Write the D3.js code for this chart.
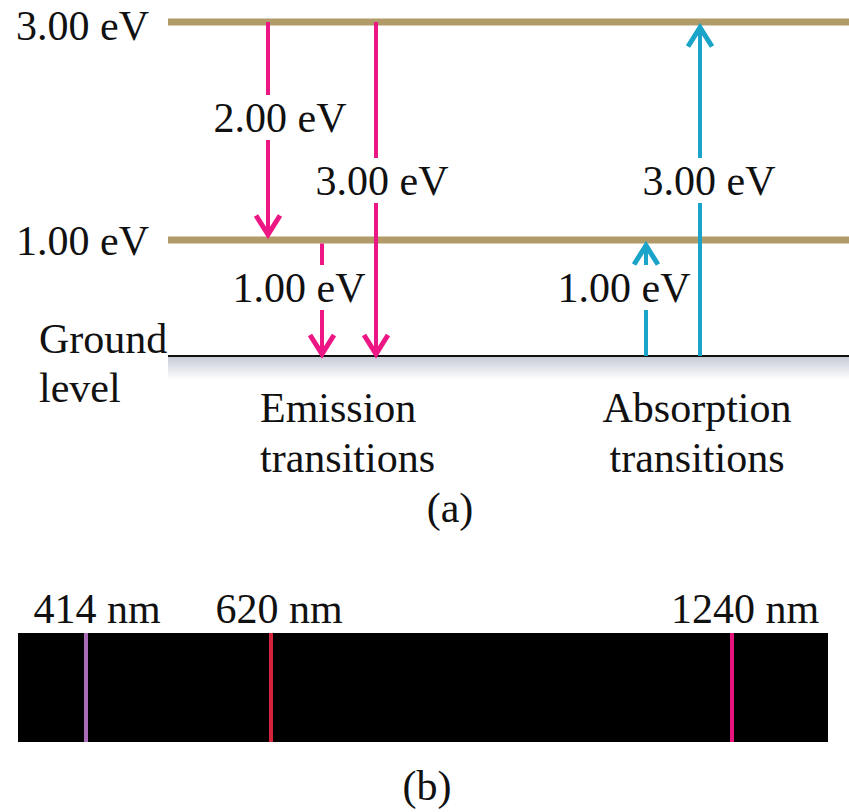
<!DOCTYPE html>
<html>
<head>
<meta charset="utf-8">
<script src="https://cdn.jsdelivr.net/npm/d3@7"></script>
<style>
  body { margin: 0; background: #fff; }
  text { font-family: "Liberation Serif", "Times New Roman", serif; font-size: 42px; fill: #111; }
</style>
</head>
<body>
<svg id="chart"></svg>
<script>
// energy levels (eV)
var levels = [3, 1, 0];
var levelLabels = ["3.00 eV", "1.00 eV", ""];

// transitions: from / to energy, slot along the row
var transFrom = [3, 1, 3, 0, 0];
var transTo = [1, 0, 0, 1, 3];
var transLabels = ["2.00 eV", "1.00 eV", "3.00 eV", "1.00 eV", "3.00 eV"];
var transSlot = [0, 1, 2, 7, 8];
var transKind = ["emission", "emission", "emission", "absorption", "absorption"];

// label placement (pixels)
var labelDx = [12, -23, 6, -22, 9];
var labelBase = [132, 302, 195, 302, 195];

// spectrum lines (nm)
var wavelengths = [414, 620, 1240];
var waveLabels = ["414 nm", "620 nm", "1240 nm"];
var waveColors = ["#a96bb8", "#d4253c", "#e8147e"];
var waveDx = [11, 8, 13];

var colors = { emission: "#ec1784", absorption: "#1ba4c9" };

var width = 849, height = 812;

var svg = d3.select("#chart")
    .attr("width", width)
    .attr("height", height);

var y = d3.scaleLinear().domain([0, 1, 3]).range([356, 240, 22]);
var x = d3.scaleLinear().domain([0, 1]).range([268, 322]);
var lineLeft = 168;

// shading under ground level
var grad = svg.append("defs").append("linearGradient")
    .attr("id", "shade").attr("x1", 0).attr("y1", 0).attr("x2", 0).attr("y2", 1);
grad.append("stop").attr("offset", "0%").attr("stop-color", "#c5cad5");
grad.append("stop").attr("offset", "100%").attr("stop-color", "#fff");

svg.append("rect")
    .attr("x", lineLeft).attr("y", y(0))
    .attr("width", width - lineLeft).attr("height", 24)
    .attr("fill", "url(#shade)");

// level lines
svg.selectAll(".level")
    .data(levels)
  .enter().append("line")
    .attr("class", "level")
    .attr("x1", lineLeft).attr("x2", width)
    .attr("y1", function(d) { return y(d); })
    .attr("y2", function(d) { return y(d); })
    .attr("stroke", function(d) { return d == 0 ? "#111" : "#b19b68"; })
    .attr("stroke-width", function(d) { return d == 0 ? 2 : 7; });

svg.selectAll(".levelLabel")
    .data(levels)
  .enter().append("text")
    .attr("text-anchor", "end")
    .attr("x", 149)
    .attr("y", function(d) { return y(d) + (d == 3 ? 18 : 15); })
    .text(function(d, i) { return levelLabels[i]; });

svg.append("text").attr("x", 39).attr("y", 353).text("Ground");
svg.append("text").attr("x", 39).attr("y", 402).text("level");

// arrows
var trans = transFrom.map(function(f, i) {
  return { from: f, to: transTo[i], label: transLabels[i], slot: transSlot[i], kind: transKind[i], i: i };
});

function tipY(d) {
  var up = d.to > d.from;
  if (d.to == 0) return y(0);
  return up ? y(d.to) + 3.5 : y(d.to) - 3.5;
}
function startY(d) {
  if (d.from == 0) return y(0);
  return d.kind == "emission" && d.from == 1 ? y(1) + 3.5 : y(d.from);
}

var arrows = svg.selectAll(".arrow")
    .data(trans)
  .enter().append("g")
    .attr("class", "arrow");

arrows.append("line")
    .attr("x1", function(d) { return x(d.slot); })
    .attr("x2", function(d) { return x(d.slot); })
    .attr("y1", startY)
    .attr("y2", function(d) { return tipY(d) + (d.to > d.from ? 2 : -2); })
    .attr("stroke", function(d) { return colors[d.kind]; })
    .attr("stroke-width", 4);

arrows.append("path")
    .attr("d", function(d) {
      var cx = x(d.slot), ty = tipY(d), s = d.to > d.from ? 1 : -1;
      return "M" + (cx - 12) + "," + (ty + s * 21) + "L" + cx + "," + (ty + s * 2) + "L" + (cx + 12) + "," + (ty + s * 21);
    })
    .attr("fill", "none")
    .attr("stroke", function(d) { return colors[d.kind]; })
    .attr("stroke-width", 5)
    .attr("stroke-linejoin", "miter");

// gap in the arrow shaft behind each label
arrows.append("rect")
    .attr("x", function(d) { return x(d.slot) - 4; })
    .attr("y", function(d) { return labelBase[d.i] - 37; })
    .attr("width", 8)
    .attr("height", 45)
    .attr("fill", "#fff");

arrows.append("text")
    .attr("text-anchor", "middle")
    .attr("x", function(d) { return x(d.slot) + labelDx[d.i]; })
    .attr("y", function(d) { return labelBase[d.i]; })
    .text(function(d) { return d.label; });

svg.append("text").attr("x", 260).attr("y", 422).text("Emission");
svg.append("text").attr("x", 260).attr("y", 472).text("transitions");
svg.append("text").attr("x", 697).attr("y", 422).attr("text-anchor", "middle").text("Absorption");
svg.append("text").attr("x", 697).attr("y", 472).attr("text-anchor", "middle").text("transitions");
svg.append("text").attr("x", 450).attr("y", 522).attr("text-anchor", "middle").text("(a)");

// spectrum (b)
var wx = d3.scaleLinear().domain([414, 620, 1240]).range([86, 271, 732]);

svg.append("rect")
    .attr("x", 18).attr("y", 633)
    .attr("width", 810).attr("height", 109)
    .attr("fill", "#000");

svg.selectAll(".wave")
    .data(wavelengths)
  .enter().append("line")
    .attr("x1", function(d) { return wx(d); })
    .attr("x2", function(d) { return wx(d); })
    .attr("y1", 633).attr("y2", 742)
    .attr("stroke", function(d, i) { return waveColors[i]; })
    .attr("stroke-width", 4);

svg.selectAll(".waveLabel")
    .data(wavelengths)
  .enter().append("text")
    .attr("text-anchor", "middle")
    .attr("x", function(d, i) { return wx(d) + waveDx[i]; })
    .attr("y", 623)
    .text(function(d, i) { return waveLabels[i]; });

svg.append("text").attr("x", 427).attr("y", 800).attr("text-anchor", "middle").text("(b)");
</script>
</body>
</html>
